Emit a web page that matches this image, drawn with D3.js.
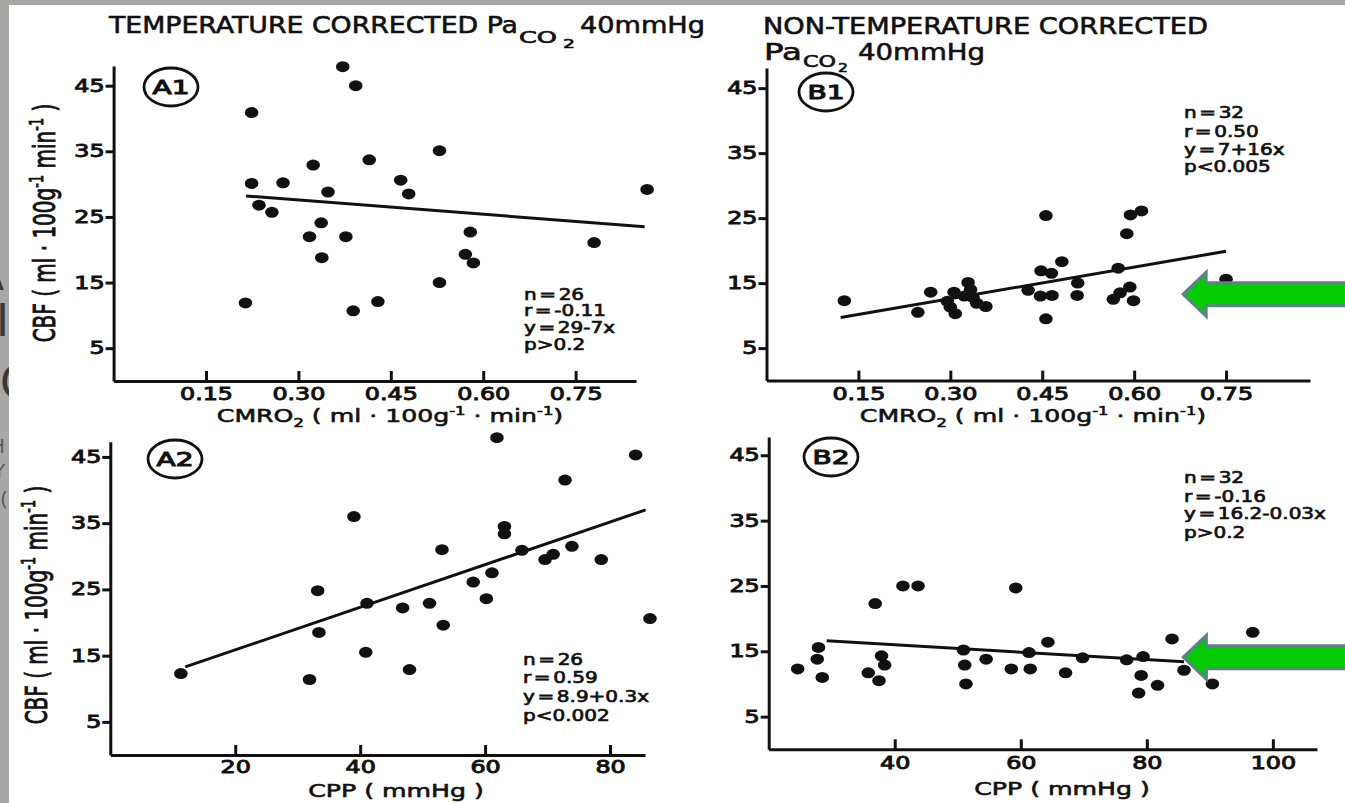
<!DOCTYPE html>
<html>
<meta charset="utf-8">
<head>
<script src="https://d3js.org/d3.v7.min.js"></script>
<style>
  body { margin: 0; background: #a9a8a6; overflow: hidden; }
  svg { display: block; }
  text { font-family: "DejaVu Sans", sans-serif; fill: #111; stroke: #111; stroke-width: 0.6px; }
  text.ghost { stroke: none; }
</style>
</head>
<body>
<script>
// values
var a1Cmro = [0.224, 0.372, 0.393, 0.224, 0.275, 0.324, 0.415, 0.529, 0.466, 0.479, 0.348, 0.236, 0.257,
              0.337, 0.318, 0.377, 0.338, 0.579, 0.571, 0.584, 0.529, 0.214, 0.389, 0.429, 0.780, 0.866];
var a1Cbf  = [40.9, 47.9, 45.0, 30.1, 30.2, 32.9, 33.7, 35.1, 30.6, 28.5, 28.8, 26.8, 25.7,
              24.1, 22.0, 22.0, 18.8, 22.7, 19.3, 18.0, 15.0, 11.9, 10.7, 12.1, 21.1, 29.2];

var b1Cmro = [0.127, 0.247, 0.268, 0.456, 0.482, 0.594, 0.612, 0.588, 0.574, 0.750, 0.448, 0.465, 0.427,
              0.447, 0.466, 0.456, 0.508, 0.507, 0.566, 0.577, 0.593, 0.599, 0.329, 0.333, 0.306, 0.295,
              0.300, 0.308, 0.337, 0.343, 0.358, 0.323];
var b1Cbf  = [12.3, 10.5, 13.6, 25.4, 18.3, 25.5, 26.1, 22.6, 17.3, 15.6, 16.9, 16.5, 13.9,
              13.0, 13.1, 9.5, 15.0, 13.1, 12.5, 13.5, 14.4, 12.3, 15.1, 14.0, 13.6, 12.2,
              11.3, 10.3, 12.8, 11.9, 11.4, 13.0];

var a2Cpp = [11.3, 31.9, 33.2, 33.4, 39.0, 40.9, 41.1, 46.8, 47.9, 51.1, 53.1, 53.3, 58.1,
             60.2, 61.1, 61.9, 63.1, 63.1, 65.9, 69.6, 70.9, 73.9, 72.8, 78.6, 84.1, 86.4];
var a2Cbf = [12.3, 11.4, 24.8, 18.5, 36.0, 15.5, 22.9, 22.2, 12.9, 22.9, 31.0, 19.6, 26.1,
             23.6, 27.5, 47.9, 34.5, 33.4, 30.9, 29.5, 30.3, 31.5, 41.5, 29.5, 45.3, 20.6];

var b2Cpp = [24.6, 27.7, 27.9, 28.5, 36.9, 35.8, 37.5, 37.9, 38.4, 41.3, 43.7, 50.9, 51.1, 51.3,
             54.5, 58.5, 59.2, 61.3, 61.5, 64.3, 67.1, 69.8, 76.8, 79.4, 79.1, 78.7, 81.7, 84.0,
             85.9, 90.4, 96.8];
var b2Cbf = [12.3, 13.8, 15.6, 11.0, 22.3, 11.7, 10.5, 14.3, 12.9, 25.0, 25.0, 15.2, 12.9, 10.0,
             13.8, 12.3, 24.7, 14.8, 12.3, 16.4, 11.7, 14.0, 13.7, 14.2, 11.3, 8.6, 9.8, 16.9,
             12.1, 10.0, 17.9];

// regression line end points as drawn
var a1FitX = [0.215, 0.862], a1FitY = [28.2, 23.5];
var b1FitX = [0.121, 0.750], b1FitY = [9.7, 19.9];
var a2FitX = [12.0, 85.7],   a2FitY = [13.3, 37.0];
var b2FitX = [29.2, 85.9],   b2FitY = [16.6, 13.4];

var cmroTicks = [0.15, 0.30, 0.45, 0.60, 0.75];
var cbfTicks = [5, 15, 25, 35, 45];
var a2CppTicks = [20, 40, 60, 80];
var b2CppTicks = [40, 60, 80, 100];

var a1Stats = ["n = 26", "r = -0.11", "y = 29-7x", "p>0.2"];
var b1Stats = ["n = 32", "r = 0.50", "y = 7+16x", "p<0.005"];
var a2Stats = ["n = 26", "r = 0.59", "y = 8.9+0.3x", "p<0.002"];
var b2Stats = ["n = 32", "r = -0.16", "y = 16.2-0.03x", "p>0.2"];

// green arrows point at these values (B1, B2)
var arrowB1 = [0.680, 13.3];
var arrowB2 = [85.8, 14.1];

var width = 1345, height = 803;
var SX = 1.4; // scanned figure is stretched sideways

var cbfLabel = [["CBF ( ml · 100g"], ["-1", "sup"], [" min"], ["-1", "sup"], [" )"]];
var cmroLabel = [["CMRO"], ["2", "sub"], [" ( ml · 100g"], ["-1", "sup"], [" · min"], ["-1", "sup"], [")"]];
var cppLabel = [["CPP ( mmHg )"]];

var panels = [
  { name: "A1", xs: a1Cmro, ys: a1Cbf, fx: a1FitX, fy: a1FitY, stats: a1Stats, xTicks: cmroTicks,
    fmt: d3.format(".2f"), xDom: [0, 0.848], yDom: [0, 48], left: 113.6, right: 636, top: 66, bottom: 381,
    badge: [171, 87], statX: 524, statY: [300, 316, 333, 350], xLab: cmroLabel, xLabPos: [390, 422],
    yLabPos: [55, 223], tickBase: 7 },
  { name: "B1", xs: b1Cmro, ys: b1Cbf, fx: b1FitX, fy: b1FitY, stats: b1Stats, xTicks: cmroTicks,
    fmt: d3.format(".2f"), xDom: [0, 0.887], yDom: [0, 48.1], left: 766.5, right: 1310, top: 68, bottom: 380.6,
    badge: [826, 92], statX: 1184, statY: [118, 137, 155, 172], xLab: cmroLabel, xLabPos: [1033, 422],
    yLabPos: null, tickBase: 7, arrow: arrowB1 },
  { name: "A2", xs: a2Cpp, ys: a2Cbf, fx: a2FitX, fy: a2FitY, stats: a2Stats, xTicks: a2CppTicks,
    fmt: d3.format("d"), xDom: [0, 85.6], yDom: [0, 47.3], left: 110.3, right: 645, top: 441.7, bottom: 755,
    badge: [175, 459], statX: 523, statY: [665, 683, 702, 721], xLab: cppLabel, xLabPos: [396, 797],
    yLabPos: [47, 605], tickBase: 6 },
  { name: "B2", xs: b2Cpp, ys: b2Cbf, fx: b2FitX, fy: b2FitY, stats: b2Stats, xTicks: b2CppTicks,
    fmt: d3.format("d"), xDom: [20, 107], yDom: [0, 47.8], left: 768.7, right: 1317, top: 437, bottom: 749.3,
    badge: [831, 457], statX: 1184, statY: [483, 502, 519, 538], xLab: cppLabel, xLabPos: [1062, 795],
    yLabPos: null, tickBase: 8, arrow: arrowB2 }
];

var svg = d3.select("body").append("svg").attr("width", width).attr("height", height);

// slide behind the figure, only a thin edge of it shows
svg.append("rect").attr("width", width).attr("height", height).attr("fill", "#a9a8a6");
svg.append("clipPath").attr("id", "edge").append("rect").attr("x", 0).attr("y", 0).attr("width", 9).attr("height", height);
var ghost = svg.append("g").attr("clip-path", "url(#edge)");
[["A", -26, 290, 44], ["I", -4, 336, 44], ["C", 0, 398, 44]].forEach(function (d) {
  ghost.append("text").attr("class", "ghost").attr("x", d[1]).attr("y", d[2]).attr("font-size", d[3])
    .style("fill", "#3a3a3a").text(d[0]);
});
[["H", -10, 453], ["Y", -7, 478], ["(", 0, 506]].forEach(function (d) {
  ghost.append("text").attr("class", "ghost").attr("x", d[1]).attr("y", d[2]).attr("font-size", 20)
    .style("fill", "#5a5a5a").text(d[0]);
});
svg.append("rect").attr("x", 9).attr("y", 5).attr("width", width - 9).attr("height", height - 5).attr("fill", "#fff");

function stretch(parent, x, y, sx, rot) {
  return parent.append("g")
    .attr("transform", "translate(" + x + "," + y + ") scale(" + sx + ",1)" + (rot ? " rotate(" + rot + ")" : ""));
}

function richText(t, parts, size) {
  var cur = 0;
  parts.forEach(function (p) {
    var off = p[1] === "sup" ? -0.4 * size : p[1] === "sub" ? 0.3 * size : 0;
    t.append("tspan").attr("dy", off - cur).attr("font-size", off ? size * 0.65 : size).text(p[0]);
    cur = off;
  });
}

function fitted(parent, x, y, str, size, w) {
  return parent.append("text").attr("x", x).attr("y", y).attr("font-size", size)
    .attr("textLength", w).attr("lengthAdjust", "spacingAndGlyphs").text(str);
}

// titles
fitted(svg, 109, 33, "TEMPERATURE CORRECTED Pa", 23, 409);
fitted(svg, 519, 43, "CO", 15, 38);
fitted(svg, 563, 48, "2", 13, 12);
fitted(svg, 580, 33, "40mmHg", 23, 125);
fitted(svg, 763, 34, "NON-TEMPERATURE CORRECTED", 23, 445);
fitted(svg, 764, 60, "Pa", 23, 38);
fitted(svg, 803, 67, "CO", 15, 33);
fitted(svg, 838, 72, "2", 13, 10);
fitted(svg, 858, 60, "40mmHg", 23, 127);

panels.forEach(function (p) {
  var g = svg.append("g");
  var x = d3.scaleLinear().domain(p.xDom).range([p.left, p.right]);
  var y = d3.scaleLinear().domain(p.yDom).range([p.bottom, p.top]);

  var gx = g.append("g").attr("transform", "translate(0," + p.bottom + ")")
    .call(d3.axisBottom(x).tickValues(p.xTicks).tickFormat(p.fmt)
      .tickSizeInner(-10).tickSizeOuter(0).tickPadding(p.tickBase));
  var gy = g.append("g").attr("transform", "translate(" + p.left + ",0)")
    .call(d3.axisLeft(y).tickValues(cbfTicks).tickSizeInner(8).tickSizeOuter(0).tickPadding(1));

  [gx, gy].forEach(function (a) {
    a.select(".domain").attr("stroke", "#111").attr("stroke-width", 3);
    a.selectAll(".tick line").attr("stroke", "#111").attr("stroke-width", 3);
    a.selectAll(".tick text").attr("font-size", 17).attr("fill", "#111").style("stroke-width", "0.9px");
  });
  gx.selectAll(".tick text").attr("transform", "scale(" + SX + ",1)");
  gy.selectAll(".tick text").attr("x", -9 / SX).attr("transform", "scale(" + SX + ",1)");

  // fit line
  g.append("path")
    .datum(d3.range(p.fx.length))
    .attr("fill", "none").attr("stroke", "#111").attr("stroke-width", 3)
    .attr("d", d3.line().x(function (i) { return x(p.fx[i]); }).y(function (i) { return y(p.fy[i]); }));

  // points
  g.selectAll("ellipse.dot")
    .data(d3.range(p.xs.length))
    .join("ellipse").attr("class", "dot")
    .attr("cx", function (i) { return x(p.xs[i]); })
    .attr("cy", function (i) { return y(p.ys[i]); })
    .attr("rx", 6.8).attr("ry", 5.5).attr("fill", "#111");

  // circled panel name
  g.append("ellipse").attr("cx", p.badge[0]).attr("cy", p.badge[1]).attr("rx", 27).attr("ry", 19)
    .attr("fill", "none").attr("stroke", "#111").attr("stroke-width", 2.8);
  stretch(g, p.badge[0], p.badge[1], SX).append("text")
    .attr("text-anchor", "middle").attr("dy", "0.36em").attr("font-size", 20)
    .style("stroke-width", "1.1px").text(p.name);

  // statistics
  p.stats.forEach(function (s, i) {
    stretch(g, p.statX, p.statY[i], 1.25).append("text")
      .attr("font-size", 16).attr("word-spacing", -3).style("stroke-width", "0.7px").text(s);
  });

  // axis titles
  richText(stretch(g, p.xLabPos[0], p.xLabPos[1], SX).append("text").attr("text-anchor", "middle"), p.xLab, 18);
  if (p.yLabPos) {
    richText(stretch(g, p.yLabPos[0], p.yLabPos[1], 1.5, -90).append("text").attr("text-anchor", "middle"), cbfLabel, 20);
  }

  // green arrow
  if (p.arrow) {
    var tx = x(p.arrow[0]), ty = y(p.arrow[1]);
    var pts = [[tx, ty], [tx + 23, ty - 22], [tx + 23, ty - 11.5], [width + 10, ty - 11.5],
               [width + 10, ty + 11.5], [tx + 23, ty + 11.5], [tx + 23, ty + 22]];
    g.append("path").attr("d", d3.line()(pts) + "Z")
      .attr("fill", "#00cc00").attr("stroke", "#5f7f8e").attr("stroke-width", 3);
  }
});
</script>
</body>
</html>
